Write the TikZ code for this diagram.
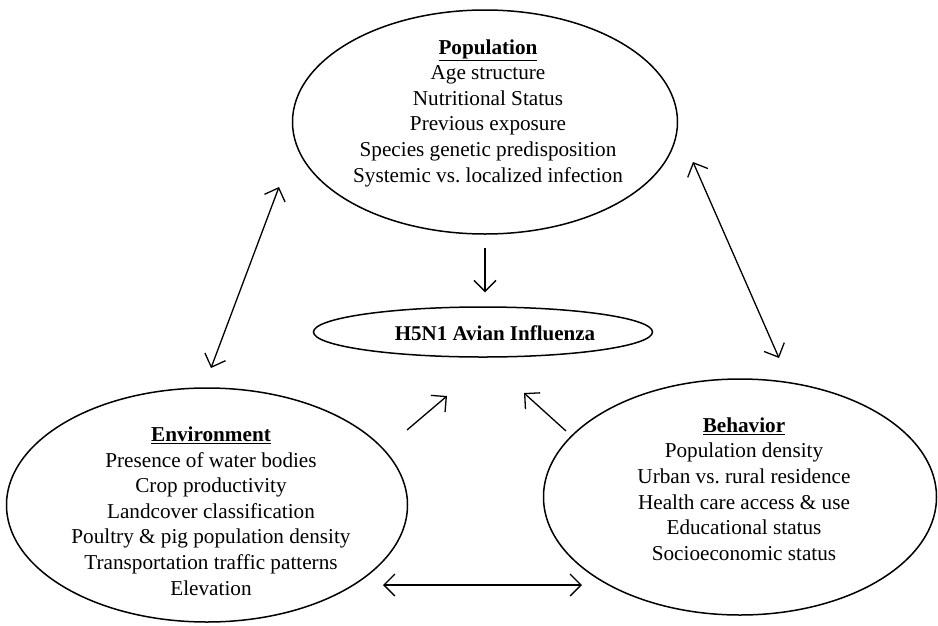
\documentclass[tikz,border=0pt]{standalone}
\usepackage{fontspec}
\setmainfont{Liberation Serif}
\usetikzlibrary{shapes.geometric,arrows.meta}

\tikzset{
  factor/.style={draw, ellipse, line width=1.5pt, inner sep=0pt},
  facts/.style={align=center, inner sep=0pt, font=\fontsize{21.2}{25.6}\selectfont},
  link/.style={line width=1.3pt, -{Straight Barb[length=11pt,width=22pt]}},
  twoway/.style={line width=1.3pt, {Straight Barb[length=11pt,width=22pt]}-{Straight Barb[length=11pt,width=22pt]}},
}

\begin{document}
\begin{tikzpicture}[x=1pt, y=-1pt]
\useasboundingbox (0,0) rectangle (938,625);

% the three factor groups and the disease
\node[factor, minimum width=385pt, minimum height=224pt] (pop) at (485,122) {};
\node[factor, minimum width=339pt, minimum height=50pt] (flu) at (483,332) {};
\node[factor, minimum width=401pt, minimum height=234pt] (env) at (207,505) {};
\node[factor, minimum width=393pt, minimum height=236pt] (beh) at (740,497) {};

\node[facts] (popText) at (488,113) {\underline{\textbf{Population}}\\Age structure\\Nutritional Status\\Previous exposure\\Species genetic predisposition\\Systemic vs.\ localized infection};
\node[facts, font=\fontsize{21}{25.6}\selectfont\bfseries] (fluText) at (495,333) {H5N1 Avian Influenza};
\node[facts] (envText) at (211,511) {\underline{\textbf{Environment}}\\Presence of water bodies\\Crop productivity\\Landcover classification\\Poultry \& pig population density\\Transportation traffic patterns\\Elevation};
\node[facts] (behText) at (744,489) {\underline{\textbf{Behavior}}\\Population density\\Urban vs.\ rural residence\\Health care access \& use\\Educational status\\Socioeconomic status};

% arrow ends
\coordinate (envTop) at (211,368);
\coordinate (popLeft) at (279,187);
\coordinate (popRight) at (693,162);
\coordinate (behTop) at (779,358);
\coordinate (envIn) at (407,430);
\coordinate (fluLeft) at (447,396);
\coordinate (behIn) at (566,431);
\coordinate (fluRight) at (524,393);
\coordinate (envRight) at (383,585);
\coordinate (behLeft) at (582,585);

\draw[link] ([yshift=-13pt]pop.south) -- ([yshift=14pt]flu.north -| pop.south);
\draw[link] (envIn) -- (fluLeft);
\draw[link] (behIn) -- (fluRight);
\draw[twoway] (envTop) -- (popLeft);
\draw[twoway] (popRight) -- (behTop);
\draw[twoway] (envRight) -- (behLeft);

\end{tikzpicture}
\end{document}
